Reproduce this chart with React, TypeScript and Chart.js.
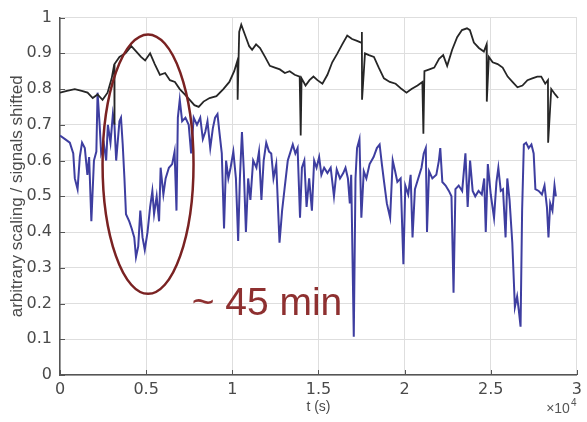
import React, { useEffect, useRef } from 'react';
import { Chart, registerables } from 'chart.js';

Chart.register(...registerables);

// time axis in units of 10^4 s
const blackT = [0, 0.04, 0.086, 0.126, 0.16, 0.19, 0.218, 0.247, 0.276, 0.3, 0.315, 0.316, 0.317, 0.345, 0.38, 0.414, 0.443, 0.47, 0.494, 0.523, 0.55, 0.58, 0.61, 0.638, 0.667, 0.695, 0.724, 0.753, 0.78, 0.805, 0.833, 0.868, 0.908, 0.948, 0.983, 1.011, 1.03, 1.031, 1.04, 1.052, 1.075, 1.098, 1.115, 1.138, 1.161, 1.19, 1.218, 1.247, 1.276, 1.305, 1.333, 1.362, 1.391, 1.397, 1.402, 1.425, 1.448, 1.471, 1.494, 1.523, 1.552, 1.58, 1.61, 1.638, 1.667, 1.695, 1.724, 1.747, 1.752, 1.753, 1.77, 1.793, 1.822, 1.85, 1.88, 1.914, 1.948, 1.983, 2.011, 2.04, 2.075, 2.103, 2.109, 2.115, 2.144, 2.172, 2.2, 2.224, 2.247, 2.276, 2.305, 2.333, 2.362, 2.379, 2.402, 2.431, 2.46, 2.476, 2.477, 2.489, 2.511, 2.54, 2.569, 2.598, 2.626, 2.655, 2.684, 2.713, 2.741, 2.77, 2.793, 2.816, 2.832, 2.833, 2.851, 2.874, 2.891];
const blackV = [0.79, 0.795, 0.8, 0.795, 0.79, 0.775, 0.785, 0.77, 0.79, 0.83, 0.87, 0.7, 0.87, 0.89, 0.9, 0.92, 0.905, 0.89, 0.88, 0.9, 0.87, 0.84, 0.845, 0.825, 0.82, 0.8, 0.785, 0.77, 0.755, 0.75, 0.765, 0.775, 0.78, 0.8, 0.82, 0.85, 0.88, 0.77, 0.96, 0.98, 0.95, 0.92, 0.91, 0.925, 0.915, 0.89, 0.865, 0.86, 0.855, 0.845, 0.85, 0.84, 0.835, 0.67, 0.83, 0.81, 0.825, 0.835, 0.825, 0.815, 0.84, 0.875, 0.9, 0.925, 0.95, 0.94, 0.935, 0.93, 0.96, 0.77, 0.9, 0.895, 0.89, 0.86, 0.83, 0.82, 0.815, 0.8, 0.79, 0.8, 0.81, 0.82, 0.675, 0.85, 0.855, 0.86, 0.885, 0.895, 0.865, 0.91, 0.945, 0.965, 0.97, 0.965, 0.93, 0.915, 0.905, 0.925, 0.765, 0.89, 0.875, 0.87, 0.86, 0.835, 0.82, 0.805, 0.81, 0.825, 0.83, 0.835, 0.835, 0.815, 0.825, 0.65, 0.8, 0.785, 0.775];

const blueT = [0, 0.029, 0.057, 0.077, 0.086, 0.102, 0.115, 0.128, 0.144, 0.159, 0.169, 0.182, 0.197, 0.211, 0.218, 0.23, 0.239, 0.255, 0.268, 0.278, 0.293, 0.307, 0.316, 0.326, 0.345, 0.354, 0.364, 0.374, 0.383, 0.402, 0.416, 0.431, 0.441, 0.454, 0.466, 0.479, 0.492, 0.508, 0.523, 0.536, 0.546, 0.561, 0.575, 0.584, 0.6, 0.613, 0.632, 0.651, 0.665, 0.676, 0.684, 0.695, 0.709, 0.728, 0.747, 0.761, 0.776, 0.795, 0.814, 0.829, 0.843, 0.856, 0.872, 0.887, 0.9, 0.914, 0.925, 0.939, 0.952, 0.964, 0.977, 0.99, 1.006, 1.021, 1.034, 1.044, 1.056, 1.067, 1.079, 1.092, 1.105, 1.121, 1.14, 1.155, 1.169, 1.182, 1.197, 1.213, 1.226, 1.239, 1.255, 1.274, 1.289, 1.303, 1.322, 1.335, 1.351, 1.366, 1.379, 1.393, 1.404, 1.418, 1.431, 1.446, 1.462, 1.475, 1.489, 1.504, 1.517, 1.533, 1.552, 1.571, 1.59, 1.606, 1.625, 1.644, 1.657, 1.671, 1.682, 1.69, 1.705, 1.715, 1.724, 1.738, 1.749, 1.763, 1.778, 1.797, 1.82, 1.839, 1.855, 1.868, 1.881, 1.897, 1.916, 1.931, 1.945, 1.958, 1.977, 1.993, 2.004, 2.021, 2.035, 2.046, 2.06, 2.079, 2.098, 2.111, 2.123, 2.13, 2.142, 2.161, 2.184, 2.199, 2.207, 2.219, 2.238, 2.257, 2.272, 2.284, 2.295, 2.314, 2.334, 2.353, 2.366, 2.38, 2.395, 2.41, 2.429, 2.448, 2.462, 2.471, 2.483, 2.5, 2.519, 2.533, 2.544, 2.558, 2.571, 2.586, 2.596, 2.609, 2.625, 2.64, 2.653, 2.663, 2.673, 2.682, 2.692, 2.705, 2.72, 2.736, 2.749, 2.759, 2.778, 2.797, 2.812, 2.826, 2.835, 2.845, 2.858, 2.87, 2.878];
const blueV = [0.67, 0.66, 0.65, 0.62, 0.55, 0.52, 0.61, 0.65, 0.635, 0.56, 0.61, 0.43, 0.6, 0.625, 0.79, 0.7, 0.62, 0.645, 0.6, 0.7, 0.65, 0.73, 0.7, 0.6, 0.71, 0.72, 0.645, 0.55, 0.45, 0.43, 0.41, 0.385, 0.33, 0.36, 0.46, 0.385, 0.35, 0.4, 0.47, 0.515, 0.45, 0.5, 0.43, 0.58, 0.505, 0.55, 0.58, 0.59, 0.625, 0.46, 0.72, 0.77, 0.71, 0.72, 0.7, 0.62, 0.72, 0.7, 0.72, 0.66, 0.68, 0.71, 0.635, 0.69, 0.72, 0.73, 0.68, 0.62, 0.41, 0.6, 0.55, 0.58, 0.625, 0.55, 0.375, 0.55, 0.68, 0.57, 0.4, 0.55, 0.49, 0.6, 0.58, 0.625, 0.49, 0.6, 0.65, 0.625, 0.62, 0.55, 0.59, 0.37, 0.46, 0.52, 0.6, 0.62, 0.645, 0.62, 0.635, 0.44, 0.58, 0.6, 0.47, 0.55, 0.46, 0.6, 0.58, 0.61, 0.56, 0.58, 0.565, 0.58, 0.5, 0.575, 0.55, 0.565, 0.58, 0.55, 0.48, 0.56, 0.107, 0.55, 0.635, 0.66, 0.44, 0.57, 0.55, 0.59, 0.61, 0.635, 0.645, 0.59, 0.54, 0.48, 0.44, 0.6, 0.57, 0.54, 0.55, 0.31, 0.53, 0.505, 0.56, 0.385, 0.52, 0.55, 0.58, 0.62, 0.635, 0.4, 0.57, 0.55, 0.56, 0.6, 0.635, 0.54, 0.53, 0.515, 0.5, 0.23, 0.52, 0.53, 0.515, 0.62, 0.47, 0.6, 0.515, 0.5, 0.515, 0.505, 0.55, 0.4, 0.59, 0.505, 0.44, 0.54, 0.58, 0.515, 0.52, 0.385, 0.55, 0.49, 0.37, 0.19, 0.22, 0.18, 0.135, 0.46, 0.645, 0.65, 0.635, 0.645, 0.62, 0.52, 0.515, 0.505, 0.53, 0.47, 0.385, 0.48, 0.46, 0.53, 0.5];

const xTickLabels = ['0', '0.5', '1', '1.5', '2', '2.5', '3'];
const yTickLabels = ['0', '0.1', '0.2', '0.3', '0.4', '0.5', '0.6', '0.7', '0.8', '0.9', '1'];
const xTitle = 't (s)';
const yTitle = 'arbitrary scaling / signals shifted';
const xExpBase = '×10';
const xExp = '4';
const noteText = '~ 45 min';
// annotation ellipse (data units): centre, half-width, half-height
const ellipseCenter = [0.511, 0.59];
const ellipseRadius = [0.264, 0.363];
const notePos = [0.764, 0.167];

const overlayPlugin = {
  id: 'overlay',
  beforeDatasetsDraw(chart: any) {
    const { ctx, chartArea, scales } = chart;
    const x = scales.x, y = scales.y;
    ctx.save();
    ctx.strokeStyle = '#555';
    ctx.lineWidth = 1;
    for (let i = 0; i < xTickLabels.length; i++) {
      const px = Math.round(x.getPixelForValue(i * 0.5)) + 0.5;
      ctx.beginPath();
      ctx.moveTo(px, chartArea.bottom);
      ctx.lineTo(px, chartArea.bottom - 5);
      ctx.stroke();
    }
    for (let i = 0; i < yTickLabels.length; i++) {
      const py = Math.round(y.getPixelForValue(i * 0.1)) + 0.5;
      ctx.beginPath();
      ctx.moveTo(chartArea.left, py);
      ctx.lineTo(chartArea.left + 5, py);
      ctx.stroke();
    }
    ctx.restore();
  },
  afterDatasetsDraw(chart: any) {
    const { ctx, scales } = chart;
    const x = scales.x, y = scales.y;
    const cx = x.getPixelForValue(ellipseCenter[0]);
    const cy = y.getPixelForValue(ellipseCenter[1]);
    const rx = x.getPixelForValue(ellipseCenter[0] + ellipseRadius[0]) - cx;
    const ry = cy - y.getPixelForValue(ellipseCenter[1] + ellipseRadius[1]);
    ctx.save();
    ctx.beginPath();
    ctx.ellipse(cx, cy, rx, ry, 0, 0, Math.PI * 2);
    ctx.strokeStyle = '#7a2222';
    ctx.lineWidth = 2.5;
    ctx.stroke();
    ctx.font = '39px "Liberation Sans", Arial, sans-serif';
    ctx.fillStyle = '#8e3030';
    ctx.textBaseline = 'alphabetic';
    ctx.textAlign = 'left';
    ctx.fillText(noteText, x.getPixelForValue(notePos[0]), y.getPixelForValue(notePos[1]));
    ctx.restore();
  },
  afterDraw(chart: any) {
    const { ctx, chartArea } = chart;
    ctx.save();
    ctx.fillStyle = '#555';
    ctx.textAlign = 'right';
    ctx.textBaseline = 'alphabetic';
    ctx.font = '14px "Liberation Sans", Arial, sans-serif';
    const bx = chartArea.right - 7;
    ctx.fillText(xExpBase, bx, chartArea.bottom + 38);
    ctx.textAlign = 'left';
    ctx.font = '10px "Liberation Sans", Arial, sans-serif';
    ctx.fillText(xExp, bx + 1, chartArea.bottom + 31);
    ctx.restore();
  },
};

export default function App() {
  const canvasRef = useRef<HTMLCanvasElement | null>(null);

  useEffect(() => {
    const canvas = canvasRef.current;
    if (!canvas) return;
    const tickFont = { family: '"DejaVu Sans", sans-serif', size: 16 };
    const chart = new Chart(canvas, {
      type: 'line',
      data: {
        datasets: [
          {
            label: 'signal 1',
            data: blackT.map((t, i) => ({ x: t, y: blackV[i] })),
            borderColor: '#262626',
            borderWidth: 1.8,
            pointRadius: 0,
            tension: 0,
            fill: false,
          },
          {
            label: 'signal 2',
            data: blueT.map((t, i) => ({ x: t, y: blueV[i] })),
            borderColor: '#3e3ea0',
            borderWidth: 2,
            pointRadius: 0,
            tension: 0,
            fill: false,
          },
        ],
      },
      options: {
        responsive: false,
        animation: false,
        events: [],
        layout: { padding: { left: 0, right: 5, top: 15, bottom: 0 } },
        plugins: {
          legend: { display: false },
          tooltip: { enabled: false },
        },
        scales: {
          x: {
            type: 'linear',
            min: 0,
            max: 3,
            afterFit: (s: any) => { s.height = 47; },
            grid: { color: '#dedede', drawTicks: false, lineWidth: 1 },
            border: { color: '#555', width: 1.5 },
            ticks: {
              stepSize: 0.5,
              padding: 5,
              color: '#4a4a4a',
              font: tickFont,
              maxRotation: 0,
              callback: (_v: any, i: number) => xTickLabels[i],
            },
            title: {
              display: true,
              text: xTitle,
              color: '#4a4a4a',
              font: { family: '"Liberation Sans", Arial, sans-serif', size: 14 },
              padding: { top: 0, bottom: 6 },
            },
          },
          y: {
            type: 'linear',
            min: 0,
            max: 1,
            afterFit: (s: any) => { s.width = 60; },
            grid: { color: '#dedede', drawTicks: false, lineWidth: 1 },
            border: { color: '#555', width: 1.5 },
            ticks: {
              stepSize: 0.1,
              padding: 8,
              color: '#4a4a4a',
              font: tickFont,
              callback: (_v: any, i: number) => yTickLabels[i],
            },
            title: {
              display: true,
              text: yTitle,
              color: '#4a4a4a',
              font: { family: '"Liberation Sans", Arial, sans-serif', size: 17 },
              padding: { top: 7, bottom: 0 },
            },
          },
        },
      },
      plugins: [overlayPlugin],
    } as any);
    return () => chart.destroy();
  }, []);

  return (
    <div style={{ position: 'absolute', left: 0, top: 0, width: 587, height: 422, background: '#fff' }}>
      <canvas ref={canvasRef} width={587} height={422} style={{ display: 'block' }} />
    </div>
  );
}
